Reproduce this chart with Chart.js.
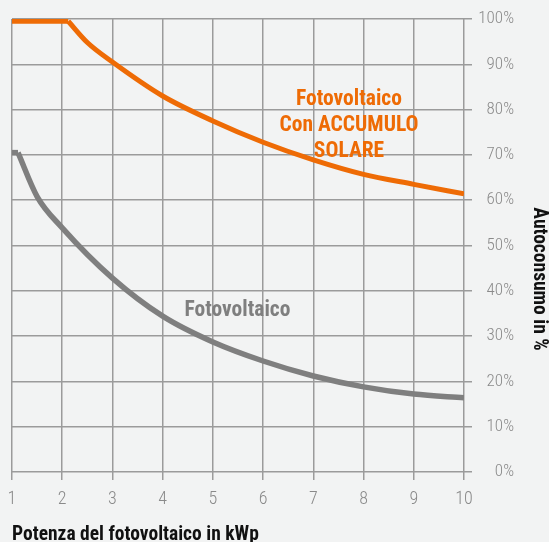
<!DOCTYPE html>
<html>
<head>
<meta charset="utf-8">
<script src="https://cdn.jsdelivr.net/npm/chart.js@4"></script>
<style>
  html, body { margin: 0; padding: 0; background: #f2f3f3; }
  #wrap { width: 549px; height: 542px; }
</style>
</head>
<body>
<div id="wrap"><canvas id="chart"></canvas></div>
<script>
// data (x in kWp, y in %)
const xTicks = [1, 2, 3, 4, 5, 6, 7, 8, 9, 10];
// with storage: flat part, then the falling curve
const accumuloFlatX = [1, 2.12];
const accumuloFlatY = [99.5, 99.5];
const accumuloX = [2.12, 2.5, 3, 4, 5, 6, 7, 8, 9, 10];
const accumuloY = [99.5, 94.8, 90.5, 83, 77.5, 72.8, 68.9, 65.7, 63.5, 61.4];
// without storage
const fotoFlatX = [1, 1.12];
const fotoFlatY = [70.5, 70.5];
const fotoX = [1.12, 1.5, 2, 3, 4, 5, 6, 7, 8, 9, 10];
const fotoY = [70.5, 60.8, 53.9, 42.8, 34.4, 28.7, 24.5, 21.2, 18.8, 17.2, 16.4];

const ORANGE = '#ee6b05';
const GREY = '#7f7f7f';
const FONT = '"Roboto Condensed", "Roboto", sans-serif';
const Y_TITLE = 'Autoconsumo in %';

const toPoints = (xs, ys) => xs.map((x, i) => ({ x, y: ys[i] }));

// labels written inside the plot, placed in data units
const labels = [
  { lines: ['Fotovoltaico', 'Con ACCUMULO', 'SOLARE'], x: 7.71, y: 82.25, color: ORANGE },
  { lines: ['Fotovoltaico'], x: 5.49, y: 35.7, color: GREY },
];

const bgPlugin = {
  id: 'bg',
  beforeDraw(chart) {
    const { ctx, width, height } = chart;
    ctx.save();
    ctx.fillStyle = '#f2f3f3';
    ctx.fillRect(0, 0, width, height);
    ctx.restore();
  },
};

const textPlugin = {
  id: 'curveLabels',
  afterDatasetsDraw(chart) {
    const { ctx, scales, width } = chart;
    ctx.save();
    ctx.font = 'bold 21.5px ' + FONT;
    ctx.textAlign = 'center';
    ctx.textBaseline = 'middle';
    labels.forEach(l => {
      const cx = scales.x.getPixelForValue(l.x);
      const cy = scales.y.getPixelForValue(l.y);
      ctx.fillStyle = l.color;
      l.lines.forEach((t, i) => ctx.fillText(t, cx, cy + i * 26));
    });
    // y axis title, right edge, reading top to bottom
    ctx.font = 'bold 19.5px ' + FONT;
    ctx.fillStyle = '#111';
    ctx.translate(width - 10.5, scales.y.getPixelForValue(42.6));
    ctx.rotate(Math.PI / 2);
    ctx.fillText(Y_TITLE, 0, 0);
    ctx.restore();
  },
};

const line = (data, color, width, curve) => ({
  data,
  borderColor: color,
  borderWidth: width,
  pointRadius: 0,
  fill: false,
  borderCapStyle: 'butt',
  cubicInterpolationMode: curve ? 'monotone' : 'default',
  tension: 0,
});

new Chart(document.getElementById('chart'), {
  type: 'line',
  data: {
    datasets: [
      line(toPoints(accumuloFlatX, accumuloFlatY), ORANGE, 5, false),
      line(toPoints(accumuloX, accumuloY), ORANGE, 5, true),
      line(toPoints(fotoFlatX, fotoFlatY), GREY, 5.5, false),
      line(toPoints(fotoX, fotoY), GREY, 5.5, true),
    ],
  },
  options: {
    responsive: true,
    maintainAspectRatio: false,
    animation: false,
    layout: { padding: { left: 12, top: 19, right: 35, bottom: 0 } },
    plugins: { legend: { display: false }, tooltip: { enabled: false } },
    scales: {
      x: {
        type: 'linear',
        min: 1,
        max: 10,
        afterBuildTicks: s => { s.ticks = xTicks.map(v => ({ value: v })); },
        afterFit: s => { s.height = 70; },
        grid: { color: '#9b9b9b', lineWidth: 1.5, tickLength: 8 },
        border: { display: false },
        ticks: {
          color: '#8a8a8a',
          font: { family: FONT, size: 18, weight: 300, lineHeight: 1.6 },
          padding: 5,
          maxRotation: 0,
        },
        title: {
          display: true,
          align: 'start',
          text: 'Potenza del fotovoltaico in kWp',
          color: '#111',
          font: { family: FONT, size: 19.5, weight: 'bold', lineHeight: 0.75 },
          padding: { top: 0, bottom: 0 },
        },
      },
      y: {
        position: 'right',
        min: 0,
        max: 100,
        afterFit: s => { s.width = 50; },
        grid: { color: '#9b9b9b', lineWidth: 1.5, tickLength: 8 },
        border: { display: false },
        ticks: {
          stepSize: 10,
          color: '#8a8a8a',
          crossAlign: 'far',
          font: { family: FONT, size: 17, weight: 300 },
          callback: v => v + '%',
        },
        title: { display: false },
      },
    },
  },
  plugins: [bgPlugin, textPlugin],
});
</script>
</body>
</html>
